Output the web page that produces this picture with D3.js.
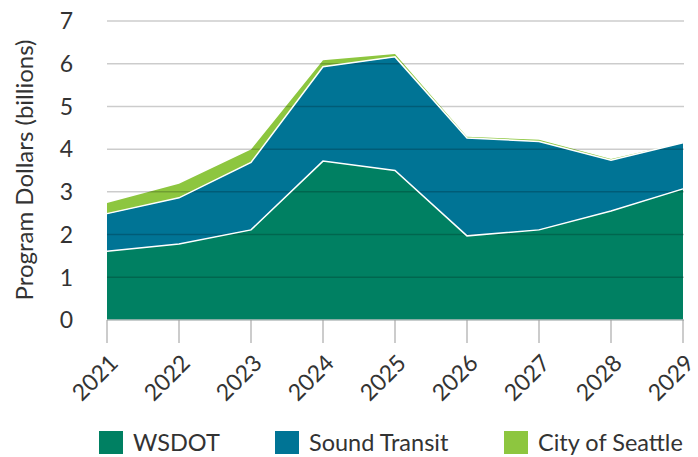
<!DOCTYPE html>
<html>
<head>
<meta charset="utf-8">
<script src="https://cdn.jsdelivr.net/npm/d3@7"></script>
<style>
  body { margin: 0; background: #fff; }
  text { font-family: Lato, "DejaVu Sans", sans-serif; fill: #333; }
</style>
</head>
<body>
<svg id="chart" width="698" height="457"></svg>
<script>
var years = [2021, 2022, 2023, 2024, 2025, 2026, 2027, 2028, 2029];
var wsdot = [1.61, 1.78, 2.11, 3.72, 3.50, 1.97, 2.11, 2.55, 3.07];
var soundTransit = [0.88, 1.08, 1.58, 2.21, 2.66, 2.29, 2.07, 1.19, 1.08];
var citySeattle = [0.25, 0.33, 0.30, 0.15, 0.07, 0.03, 0.04, 0.03, 0.00];
var seriesNames = ["WSDOT", "Sound Transit", "City of Seattle"];
var yTicks = [0, 1, 2, 3, 4, 5, 6, 7];

var colors = ["#008062", "#007495", "#8dc63f"];

var margin = {top: 21, right: 15, bottom: 137, left: 107},
    width = 698 - margin.left - margin.right,
    height = 457 - margin.top - margin.bottom;

var svg = d3.select("#chart");
var g = svg.append("g")
    .attr("transform", "translate(" + margin.left + "," + margin.top + ")");

var x = d3.scaleLinear().domain([2021, 2029]).range([0, 576]);
var y = d3.scaleLinear().domain([0, 7]).range([height, 0]);

// build table for the stack
var table = years.map(function(yr, i) {
    return {year: yr, "WSDOT": wsdot[i], "Sound Transit": soundTransit[i], "City of Seattle": citySeattle[i]};
});
var stacked = d3.stack().keys(seriesNames)(table);

var area = d3.area()
    .x(function(d) { return x(d.data.year); })
    .y0(function(d) { return y(d[0]); })
    .y1(function(d) { return y(d[1]); });

g.selectAll(".layer")
    .data(stacked)
  .enter().append("path")
    .attr("class", "layer")
    .attr("fill", function(d, i) { return colors[i]; })
    .attr("d", area);

// gridlines sit over the areas
g.selectAll(".grid")
    .data(yTicks.slice(1))
  .enter().append("line")
    .attr("x1", 0).attr("x2", 577)
    .attr("y1", function(d) { return y(d); })
    .attr("y2", function(d) { return y(d); })
    .attr("stroke", "rgba(0,0,0,0.2)")
    .attr("stroke-width", 1.5);

// white edges between layers
var topLine = d3.line()
    .x(function(d) { return x(d.data.year); })
    .y(function(d) { return y(d[1]); });

g.selectAll(".edge")
    .data(stacked.slice(0, 2))
  .enter().append("path")
    .attr("fill", "none")
    .attr("stroke", "#fff")
    .attr("stroke-width", 1.5)
    .attr("d", topLine);

// y axis labels
g.selectAll(".ylab")
    .data(yTicks)
  .enter().append("text")
    .attr("x", -34)
    .attr("y", function(d) { return y(d); })
    .attr("dy", "0.36em")
    .attr("text-anchor", "end")
    .style("font-size", "23px")
    .text(function(d) { return d; });

// x axis
g.append("line")
    .attr("x1", 0).attr("x2", 577)
    .attr("y1", height).attr("y2", height)
    .attr("stroke", "#b5bcbc")
    .attr("stroke-width", 1.5);

g.selectAll(".xtick")
    .data(years)
  .enter().append("line")
    .attr("x1", function(d) { return x(d); })
    .attr("x2", function(d) { return x(d); })
    .attr("y1", height).attr("y2", height + 23)
    .attr("stroke", "#999")
    .attr("stroke-width", 1);

g.selectAll(".xlab")
    .data(years)
  .enter().append("text")
    .attr("transform", function(d) { return "translate(" + (x(d) + 1) + "," + (height + 33) + ") rotate(-45)"; })
    .attr("text-anchor", "end")
    .attr("dy", "0.71em")
    .style("font-size", "23px")
    .text(function(d) { return d; });

// y axis title
svg.append("text")
    .attr("transform", "translate(33,170) rotate(-90)")
    .attr("text-anchor", "middle")
    .style("font-size", "24px")
    .text("Program Dollars (billions)");

// legend
var legendX = [99, 275, 504];
var legend = svg.selectAll(".legend")
    .data(seriesNames)
  .enter().append("g")
    .attr("transform", function(d, i) { return "translate(" + legendX[i] + ",431)"; });

legend.append("rect")
    .attr("width", 24).attr("height", 23)
    .attr("fill", function(d, i) { return colors[i]; });

legend.append("text")
    .attr("x", 34).attr("y", 12)
    .attr("dy", "0.36em")
    .style("font-size", "23.5px")
    .text(function(d) { return d; });
</script>
</body>
</html>
